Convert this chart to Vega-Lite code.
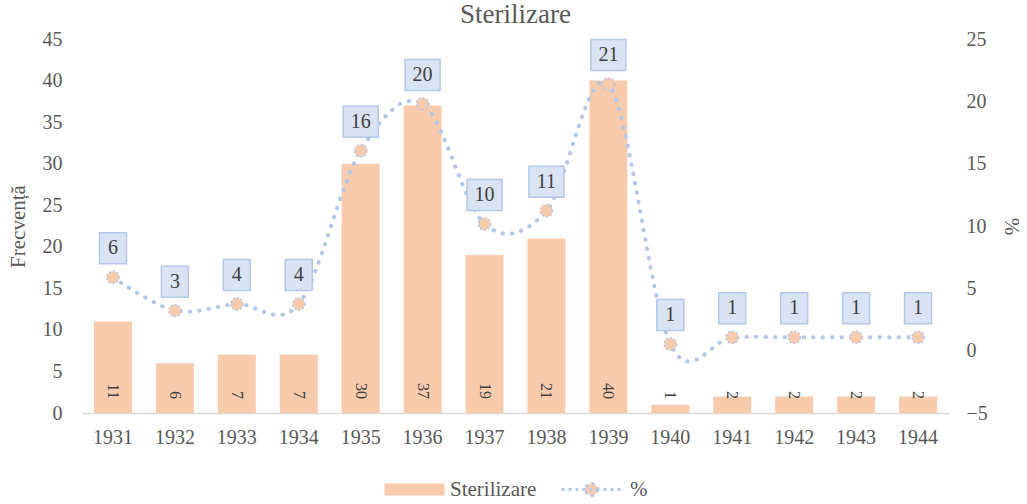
{
  "$schema": "https://vega.github.io/schema/vega-lite/v6.json",
  "width": 867,
  "height": 374,
  "autosize": {"type": "none"},
  "padding": {"left": 82, "top": 39, "right": 78, "bottom": 91},
  "background": "white",
  "title": {"text": "Sterilizare", "font": "'Liberation Serif', 'Times New Roman', serif", "fontSize": 27, "fontWeight": "normal", "color": "#595959", "anchor": "middle", "baseline": "alphabetic", "offset": -21},
  "config": {"view": {"stroke": null}, "font": "'Liberation Serif', 'Times New Roman', serif"},
  "data": {"values": [
    {"year": "1931", "freq": 11, "pct": 5.88},
    {"year": "1932", "freq": 6, "pct": 3.21},
    {"year": "1933", "freq": 7, "pct": 3.74},
    {"year": "1934", "freq": 7, "pct": 3.74},
    {"year": "1935", "freq": 30, "pct": 16.04},
    {"year": "1936", "freq": 37, "pct": 19.79},
    {"year": "1937", "freq": 19, "pct": 10.16},
    {"year": "1938", "freq": 21, "pct": 11.23},
    {"year": "1939", "freq": 40, "pct": 21.39},
    {"year": "1940", "freq": 1, "pct": 0.53},
    {"year": "1941", "freq": 2, "pct": 1.07},
    {"year": "1942", "freq": 2, "pct": 1.07},
    {"year": "1943", "freq": 2, "pct": 1.07},
    {"year": "1944", "freq": 2, "pct": 1.07}
  ]},
  "encoding": {
    "x": {"field": "year", "type": "nominal", "sort": null,
      "scale": {"paddingInner": 0.387, "paddingOuter": 0.1935},
      "axis": {"title": null, "labelAngle": 0, "ticks": false, "domainColor": "#d9d9d9", "domainWidth": 1.5, "labelPadding": 14, "labelFontSize": 20, "labelFont": "'Liberation Serif', 'Times New Roman', serif", "labelColor": "#595959", "grid": false}}
  },
  "layer": [
    {
      "encoding": {
        "y": {"field": "freq", "type": "quantitative", "title": "Frecvență",
          "scale": {"domain": [0, 45], "nice": false, "zero": false},
          "axis": {"orient": "left", "values": [0,5,10,15,20,25,30,35,40,45], "grid": false, "domain": false, "ticks": false, "labelPadding": 20, "labelFontSize": 20, "labelFont": "'Liberation Serif', 'Times New Roman', serif", "labelColor": "#595959", "titleFont": "'Liberation Serif', 'Times New Roman', serif", "titleFontSize": 21, "titleFontWeight": "normal", "titleColor": "#595959", "titlePadding": 14}}
      },
      "layer": [
        {
          "mark": {"type": "bar"},
          "encoding": {
            "fill": {"datum": "Sterilizare", "type": "nominal", "scale": {"range": ["#f8cbad"]},
              "legend": {"title": null, "orient": "none", "legendX": 322, "legendY": 440, "padding": 0,
                "symbolType": "M-5,-1H5V1H-5Z", "symbolSize": 144, "symbolStrokeWidth": 0, "symbolFillColor": "#f8cbad", "symbolOpacity": 1,
                "labelOffset": 25, "labelFontSize": 21, "labelFont": "'Liberation Serif', 'Times New Roman', serif", "labelColor": "#595959"}}
          }
        },
        {
          "mark": {"type": "text", "angle": 90, "align": "right", "baseline": "middle", "yOffset": -14, "fontSize": 16, "font": "'Liberation Serif', 'Times New Roman', serif", "color": "#404040"},
          "encoding": {
            "y": {"datum": 0, "type": "quantitative", "title": "Frecvență"},
            "text": {"field": "freq", "type": "quantitative"}
          }
        }
      ]
    },
    {
      "encoding": {
        "y": {"field": "pct", "type": "quantitative", "title": "%",
          "scale": {"domain": [-5, 25], "nice": false, "zero": false},
          "axis": {"orient": "right", "values": [-5,0,5,10,15,20,25], "grid": false, "domain": false, "ticks": false, "labelPadding": 17, "labelFontSize": 20, "labelFont": "'Liberation Serif', 'Times New Roman', serif", "labelColor": "#595959", "titleFont": "'Liberation Serif', 'Times New Roman', serif", "titleFontSize": 21, "titleFontWeight": "normal", "titleColor": "#595959", "titlePadding": 13}}
      },
      "layer": [
        {
          "mark": {"type": "line", "interpolate": "cardinal", "strokeWidth": 4, "strokeDash": [0.5, 9], "strokeCap": "round"},
          "encoding": {
            "stroke": {"datum": "%", "type": "nominal", "scale": {"range": ["#b4c7e7"]},
              "legend": {"title": null, "orient": "none", "legendX": 499, "legendY": 440, "padding": 0,
                "symbolType": "M-5,0H5M1,0A1,1 0 1,1 -1,0A1,1 0 1,1 1,0", "symbolSize": 144, "symbolStrokeWidth": 3, "symbolDash": [3, 4], "symbolStrokeColor": "#b4c7e7", "symbolFillColor": "#f8cbad", "symbolOpacity": 1,
                "labelOffset": 28, "labelFontSize": 21, "labelFont": "'Liberation Serif', 'Times New Roman', serif", "labelColor": "#595959"}}
          }
        },
        {
          "mark": {"type": "point", "filled": true, "fill": "#f8cbad", "stroke": "#b4c7e7", "strokeWidth": 1.5, "strokeDash": [2, 2], "size": 150, "opacity": 1}
        },
        {
          "mark": {"type": "point", "filled": true, "fill": "#dae3f3", "stroke": "#b4c7e7", "strokeWidth": 1.5, "size": 961, "opacity": 1, "yOffset": -29},
          "encoding": {
            "shape": {"condition": {"test": "datum.pct >= 9.5", "value": "M-1.13,-1H1.13V1H-1.13Z"}, "value": "M-0.87,-1H0.87V1H-0.87Z"}
          }
        },
        {
          "mark": {"type": "text", "yOffset": -29, "baseline": "middle", "align": "center", "fontSize": 20, "font": "'Liberation Serif', 'Times New Roman', serif", "color": "#404040"},
          "encoding": {
            "text": {"field": "pct", "type": "quantitative", "format": ".0f"}
          }
        }
      ]
    }
  ],
  "resolve": {"scale": {"y": "independent", "fill": "independent", "stroke": "independent"}}
}
